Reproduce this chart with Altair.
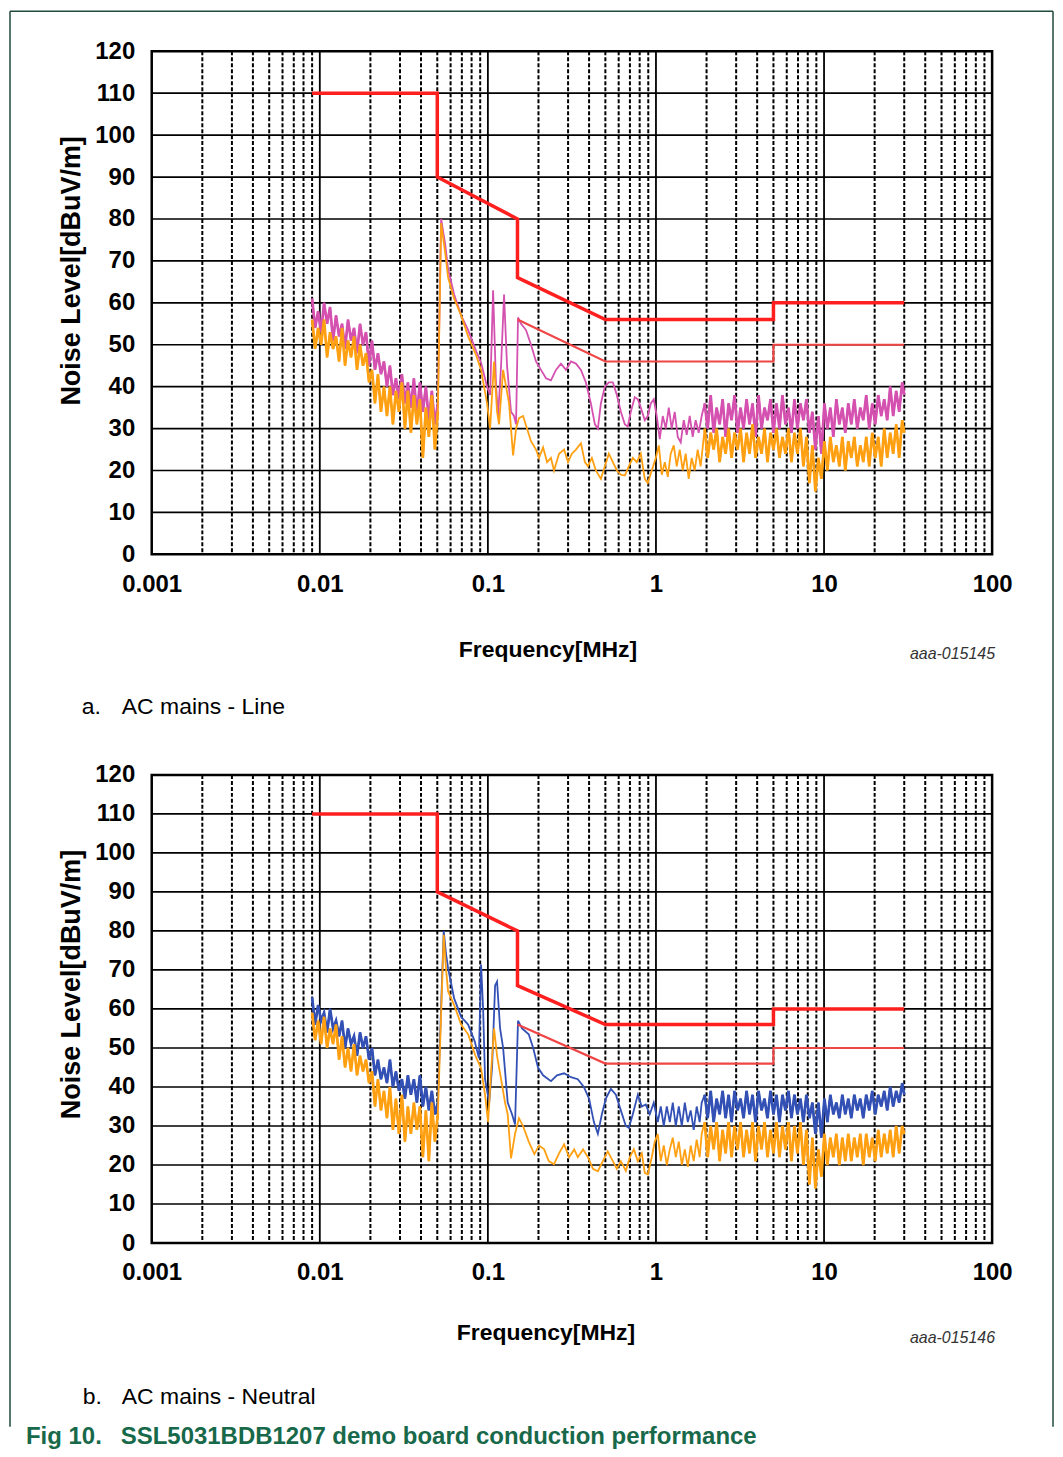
import altair as alt
import pandas as pd

# ---------------- data ----------------
# dense-noise frequency grid below the 0.05 MHz peak (MHz)
F_LOW = [0.00900, 0.00938, 0.00977, 0.01018, 0.01060, 0.01105, 0.01151, 0.01199, 0.01249, 0.01302,
         0.01356, 0.01413, 0.01472, 0.01534, 0.01598, 0.01665, 0.01735, 0.01807, 0.01883, 0.01962,
         0.02044, 0.02129, 0.02218, 0.02311, 0.02408, 0.02509, 0.02614, 0.02723, 0.02837, 0.02956,
         0.03080, 0.03209, 0.03343, 0.03483, 0.03629, 0.03781, 0.03939, 0.04104, 0.04276, 0.04455,
         0.04641, 0.04835, 0.05038]
# dense-noise frequency grid from 2 to 30 MHz
F_HIGH = [1.949, 2.031, 2.116, 2.204, 2.296, 2.392, 2.492, 2.597, 2.705, 2.818,
          2.936, 3.059, 3.187, 3.321, 3.460, 3.604, 3.755, 3.912, 4.076, 4.247,
          4.424, 4.609, 4.802, 5.003, 5.213, 5.431, 5.658, 5.895, 6.142, 6.399,
          6.667, 6.946, 7.236, 7.539, 7.855, 8.184, 8.526, 8.883, 9.255, 9.642,
          10.05, 10.47, 10.90, 11.36, 11.84, 12.33, 12.85, 13.38, 13.94, 14.53,
          15.14, 15.77, 16.43, 17.12, 17.83, 18.58, 19.36, 20.17, 21.01, 21.89,
          22.81, 23.76, 24.76, 25.79, 26.87, 28.00, 29.17, 30.00]

# ---- panel a: AC mains - Line ----
LINE_PK_LOW = [61, 54, 58, 53, 60, 55, 59, 51, 57, 52, 55, 49, 56, 51, 54, 48, 55, 50, 53, 45,
               51, 44, 48, 43, 46, 40, 45, 38, 42, 37, 43, 36, 41, 35, 42, 33, 41, 34, 40, 32,
               39, 31, 36]
LINE_PK_MID_F = [0.0527, 0.0557, 0.0580, 0.0630, 0.0693, 0.0763, 0.0851, 0.0911, 0.0989, 0.1031,
                 0.1074, 0.1119, 0.1150, 0.1198, 0.1248, 0.1300, 0.1373, 0.1431, 0.1471, 0.1511,
                 0.1575, 0.1686, 0.1805, 0.1933, 0.2070, 0.2216, 0.2373, 0.2541, 0.2721, 0.2913,
                 0.3120, 0.3341, 0.3577, 0.3830, 0.4101, 0.4332, 0.4512, 0.4702, 0.4966, 0.5245,
                 0.5540, 0.5852, 0.6181, 0.6529, 0.6801, 0.7087, 0.7484, 0.7798, 0.8125, 0.8581,
                 0.8940, 0.9314, 0.9704, 1.011, 1.053, 1.098, 1.144, 1.192, 1.241, 1.293,
                 1.348, 1.404, 1.463, 1.524, 1.588, 1.654, 1.723, 1.796, 1.871]
LINE_PK_MID = [80, 74, 68, 62, 57, 53.5, 48.5, 45.7, 40, 38,
               63, 40, 33, 45, 62, 45, 34, 33, 31, 56.5,
               55, 53.5, 50, 46, 44, 42, 41.5, 44, 45.5, 44,
               46, 45.5, 44, 41, 36, 31, 30, 36, 40, 41,
               41, 38, 34, 31, 30.5, 34, 37.5, 37, 35, 32,
               33, 36, 37, 33, 27.5, 33, 30, 35, 30, 34,
               28, 26.7, 32, 28.5, 33, 28, 32, 29, 33]
LINE_PK_HIGH = [36, 30, 38, 29, 35, 31, 37, 28, 36, 32, 38, 29, 35, 30, 37, 31, 36, 28, 38, 30,
                35, 32, 37, 29, 36, 30, 38, 31, 35, 29, 37, 30, 36, 32, 37, 29, 34, 25, 33, 24,
                36, 30, 35, 28, 37, 31, 35, 29, 36, 31, 37, 30, 35, 32, 38, 30, 36, 31, 38, 33,
                37, 32, 40, 33, 39, 34, 41, 38]

LINE_AV_LOW = [56, 49, 54, 50, 56, 47, 53, 49, 52, 46, 54, 45, 51, 47, 52, 44, 50, 45, 48, 41,
               44, 36, 43, 34, 40, 33, 40, 31, 39, 34, 41, 30, 39, 29, 38, 31, 37, 23, 35, 28,
               38, 25, 34]
LINE_AV_MID_F = [0.0527, 0.0557, 0.0580, 0.0630, 0.0693, 0.0763, 0.0851, 0.0911, 0.0989, 0.1031,
                 0.1088, 0.1134, 0.1165, 0.1232, 0.1283, 0.1337, 0.1412, 0.1471, 0.1531, 0.1619,
                 0.1709, 0.1805, 0.1933, 0.2015, 0.2130, 0.2251, 0.2373, 0.2474, 0.2651, 0.2840,
                 0.2997, 0.3161, 0.3341, 0.3577, 0.3777, 0.3936, 0.4157, 0.4390, 0.4702, 0.4966,
                 0.5245, 0.5540, 0.5852, 0.6181, 0.6529, 0.6895, 0.7283, 0.7692, 0.8125, 0.8581,
                 0.8940, 0.9441, 0.9976, 1.040, 1.083, 1.129, 1.176, 1.224, 1.276, 1.329,
                 1.385, 1.443, 1.503, 1.566, 1.632, 1.700, 1.771, 1.845]
LINE_AV_MID = [79, 72, 66, 61, 57, 52, 47.5, 44, 36, 30,
               46, 34, 31, 44, 40, 36, 23.6, 30, 32.5, 33,
               30, 27, 25, 23, 25.5, 22, 23, 20, 24, 25,
               22, 24, 25, 26.5, 22, 21, 23, 20, 18, 21,
               24, 22, 20, 19, 18.8, 21, 23, 22, 24, 18,
               17, 20, 23, 26, 19, 22, 18.5, 24, 26, 21,
               25, 20, 24, 18, 23, 20, 25, 21]
LINE_AV_HIGH = [30, 23, 29, 25, 30, 22, 28, 24, 30, 23, 29, 25, 30, 22, 29, 24, 31, 23, 28, 24,
                30, 22, 29, 25, 30, 23, 28, 24, 30, 22, 29, 24, 30, 21, 28, 17, 26, 15, 23, 18,
                27, 20, 28, 22, 26, 21, 28, 20, 27, 23, 28, 21, 26, 22, 28, 21, 29, 23, 28, 21,
                30, 23, 29, 24, 31, 23, 32, 29]

# ---- panel b: AC mains - Neutral ----
NEUT_PK_LOW = [63, 56, 61, 57, 59, 54, 60, 55, 57, 53, 57, 50, 55, 51, 53, 48, 54, 50, 53, 47,
               50, 43, 47, 42, 45, 41, 47, 40, 44, 39, 42, 37, 43, 38, 42, 36, 43, 35, 40, 34,
               39, 33, 36]
NEUT_PK_MID_F = [0.0546, 0.0564, 0.0580, 0.0630, 0.0693, 0.0763, 0.0835, 0.0884, 0.0898, 0.0911,
                 0.0937, 0.0962, 0.1018, 0.1059, 0.1104, 0.1134, 0.1182, 0.1232, 0.1312, 0.1392,
                 0.1451, 0.1511, 0.1596, 0.1750, 0.1860, 0.1986, 0.2130, 0.2373, 0.2576, 0.2840,
                 0.3120, 0.3427, 0.3723, 0.4000, 0.4273, 0.4512, 0.4766, 0.5033, 0.5391, 0.5773,
                 0.6181, 0.6618, 0.6895, 0.7283, 0.7798, 0.8236, 0.8698, 0.9187, 0.9704, 1.025,
                 1.068, 1.113, 1.160, 1.209, 1.259, 1.312, 1.367, 1.425, 1.485, 1.547,
                 1.609, 1.677, 1.747, 1.820, 1.871]
NEUT_PK_MID = [80, 74, 70.4, 62.7, 58, 56, 51.7, 47.4, 60, 71.4,
               60, 42, 36, 45, 66, 67, 55, 50, 36, 33,
               30.4, 57, 55, 53.5, 50, 45, 43, 41.5, 43, 43.5,
               42.5, 42, 40, 37, 31, 28, 33, 37, 39.5, 38,
               34, 30, 29.5, 33, 38, 35, 35.5, 33, 36, 31,
               35, 30, 35, 31, 36, 30, 35, 30, 36, 31,
               34, 29, 35, 31, 36]
NEUT_PK_HIGH = [38, 32, 39, 31, 37, 33, 39, 32, 38, 31, 39, 34, 37, 32, 39, 33, 38, 31, 39, 34,
                37, 32, 39, 33, 38, 31, 38, 34, 39, 32, 38, 33, 37, 31, 38, 32, 36, 28, 36, 27,
                37, 31, 38, 33, 36, 32, 38, 33, 37, 32, 38, 34, 37, 32, 38, 34, 39, 33, 38, 35,
                39, 34, 40, 35, 39, 36, 41, 38]

NEUT_AV_LOW = [59, 52, 57, 51, 58, 50, 55, 51, 56, 47, 53, 45, 50, 44, 51, 43, 48, 44, 47, 41,
               44, 35, 42, 34, 39, 32, 40, 29, 37, 28, 38, 26, 35, 28, 36, 29, 35, 22, 34, 21,
               36, 26, 33]
NEUT_AV_MID_F = [0.0546, 0.0564, 0.0580, 0.0630, 0.0693, 0.0763, 0.0843, 0.0911, 0.0962, 0.1003,
                 0.1045, 0.1088, 0.1134, 0.1198, 0.1265, 0.1312, 0.1373, 0.1451, 0.1531, 0.1619,
                 0.1750, 0.1890, 0.2015, 0.2162, 0.2303, 0.2474, 0.2651, 0.2840, 0.3043, 0.3262,
                 0.3427, 0.3682, 0.3936, 0.4219, 0.4512, 0.4832, 0.5165, 0.5540, 0.5852, 0.6181,
                 0.6618, 0.6990, 0.7389, 0.7798, 0.8236, 0.8581, 0.8940, 0.9441, 0.9839, 1.025,
                 1.068, 1.113, 1.160, 1.209, 1.259, 1.312, 1.367, 1.425, 1.485, 1.547,
                 1.609, 1.677, 1.747, 1.820, 1.871]
NEUT_AV_MID = [79, 70, 64.5, 61, 56, 53.5, 48, 44.8, 38, 31,
               44, 55, 48, 42, 36, 33, 21.7, 28, 32, 30,
               26, 22.8, 25, 24, 21, 20.2, 23, 25.3, 22, 24,
               22, 24, 22, 19, 18.4, 21, 23.5, 21, 19, 21,
               18.5, 22, 24, 21, 23, 18, 17.6, 22, 26, 27.9,
               21, 25, 20, 24, 27, 22, 26, 20, 24, 19.5,
               25, 21, 26.5, 22, 28]
NEUT_AV_HIGH = [31, 22, 30, 24, 31, 21, 29, 23, 31, 22, 30, 24, 31, 22, 29, 23, 31, 21, 30, 24,
                31, 22, 29, 23, 31, 22, 30, 24, 31, 21, 30, 23, 31, 20, 29, 15, 27, 14, 24, 17,
                28, 20, 27, 22, 28, 20, 27, 21, 28, 21, 27, 22, 28, 20, 28, 22, 27, 21, 29, 22,
                28, 23, 29, 22, 30, 23, 30, 28]

# limit lines (quasi-peak and average)
QP_F = [0.009, 0.05, 0.05, 0.15, 0.15, 0.5, 5, 5, 30]
QP_DB = [110, 110, 90, 80, 66, 56, 56, 60, 60]
AV_F = [0.15, 0.5, 5, 5, 30]
AV_DB = [56, 46, 46, 50, 50]

# axes / grid
X_TICKS = [0.001, 0.01, 0.1, 1, 10, 100]
Y_TICKS = [0, 10, 20, 30, 40, 50, 60, 70, 80, 90, 100, 110, 120]
H_GRID = [10, 20, 30, 40, 50, 60, 70, 80, 90, 100, 110]
MAJOR_F = [0.01, 0.1, 1, 10]
MINOR_F = [0.002, 0.003, 0.004, 0.005, 0.006, 0.007, 0.008, 0.009,
           0.02, 0.03, 0.04, 0.05, 0.06, 0.07, 0.08, 0.09,
           0.2, 0.3, 0.4, 0.5, 0.6, 0.7, 0.8, 0.9,
           2, 3, 4, 5, 6, 7, 8, 9,
           20, 30, 40, 50, 60, 70, 80, 90]

# ---------------- styling ----------------
SANS = "'Liberation Sans', Arial, sans-serif"
W = 842
PINK = "#d451b0"
ORANGE = "#ffa012"
BLUE = "#3350b5"
QP_RED = "#ff1f1f"
AV_RED = "#f04545"
GREEN = "#17694a"
FRAME = "#1f4a3c"


def series_df(f, db):
    n = min(len(f), len(db))
    return pd.DataFrame({"f": list(f[:n]), "db": list(db[:n]), "i": list(range(n))})


def text_layer(txt, x, y, size, weight="normal", font=SANS, color="black",
               align="left", angle=0, style="normal"):
    return alt.Chart(pd.DataFrame({"t": [txt]})).mark_text(
        align=align, baseline="middle", font=font, fontSize=size, fontWeight=weight,
        color=color, angle=angle, fontStyle=style
    ).encode(x=alt.value(x), y=alt.value(y), text="t:N")


def panel(h, traces, texts):
    xs = alt.Scale(type="log", domain=[0.001, 100], nice=False)
    ys = alt.Scale(domain=[0, 120], nice=False)
    xa = alt.Axis(values=X_TICKS, format="~g", title=None, grid=False, ticks=False,
                  domain=False, labelFont=SANS, labelFontSize=24, labelFontWeight="bold",
                  labelColor="black", labelPadding=18, labelOverlap=False, labelFlush=False)
    ya = alt.Axis(values=Y_TICKS, title=None, grid=False, ticks=False, domain=False,
                  labelFont=SANS, labelFontSize=24, labelFontWeight="bold",
                  labelColor="black", labelPadding=17, labelOverlap=False, labelFlush=False)
    X = alt.X("f:Q", scale=xs, axis=xa)
    Y = alt.Y("db:Q", scale=ys, axis=ya)
    layers = [
        alt.Chart(pd.DataFrame({"db": H_GRID})).mark_rule(color="black", strokeWidth=1.7).encode(y=Y),
        alt.Chart(pd.DataFrame({"f": MINOR_F})).mark_rule(
            color="black", strokeWidth=2, strokeDash=[4, 2]).encode(x=X),
        alt.Chart(pd.DataFrame({"f": MAJOR_F})).mark_rule(color="black", strokeWidth=1.8).encode(x=X),
    ]
    for full, dense_parts, color in traces:
        layers.append(alt.Chart(full).mark_line(color=color, strokeWidth=1.8).encode(
            x=X, y=Y, order="i:Q"))
        for part in dense_parts:
            layers.append(alt.Chart(part).mark_line(color=color, strokeWidth=2.7).encode(
                x=X, y=Y, order="i:Q"))
    layers.append(alt.Chart(series_df(AV_F, AV_DB)).mark_line(
        color=AV_RED, strokeWidth=2.2).encode(x=X, y=Y, order="i:Q"))
    layers.append(alt.Chart(series_df(QP_F, QP_DB)).mark_line(
        color=QP_RED, strokeWidth=3.5).encode(x=X, y=Y, order="i:Q"))
    layers.extend(texts)
    return alt.layer(*layers).properties(width=W, height=h)


def trace(low, mid_f, mid, high, color):
    full = series_df(F_LOW + mid_f + F_HIGH, low + mid + high)
    dense = [series_df(F_LOW, low), series_df(F_HIGH, high)]
    return (full, dense, color)


one = pd.DataFrame({"k": [0]})
border = [
    alt.Chart(one).mark_rule(color=FRAME, strokeWidth=1.5).encode(
        x=alt.value(-142), y=alt.value(-40), y2=alt.value(1378)),
    alt.Chart(one).mark_rule(color=FRAME, strokeWidth=1.5).encode(
        x=alt.value(-142), x2=alt.value(903), y=alt.value(-40)),
    alt.Chart(one).mark_rule(color=FRAME, strokeWidth=1.5).encode(
        x=alt.value(903), y=alt.value(-40), y2=alt.value(1378)),
]

texts_a = border + [
    text_layer("Noise Level[dBuV/m]", -80, 220, 27, weight="bold", angle=270, align="center"),
    text_layer("Frequency[MHz]", 397, 600, 23, weight="bold", align="center"),
    text_layer("aaa-015145", 845, 604, 16, color="#333333", align="right", style="italic"),
    text_layer("a.", -70, 657, 23),
    text_layer("AC mains - Line", -30, 657, 23),
]
texts_b = [
    text_layer("Noise Level[dBuV/m]", -80, 210, 27, weight="bold", angle=270, align="center"),
    text_layer("Frequency[MHz]", 395, 559, 23, weight="bold", align="center"),
    text_layer("aaa-015146", 845, 564, 16, color="#333333", align="right", style="italic"),
    text_layer("b.", -69, 623, 23),
    text_layer("AC mains - Neutral", -30, 623, 23),
    text_layer("Fig 10.", -126, 663, 24, weight="bold", color=GREEN),
    text_layer("SSL5031BDB1207 demo board conduction performance", -31, 663, 24,
               weight="bold", color=GREEN),
]

panel_a = panel(504, [
    trace(LINE_PK_LOW, LINE_PK_MID_F, LINE_PK_MID, LINE_PK_HIGH, PINK),
    trace(LINE_AV_LOW, LINE_AV_MID_F, LINE_AV_MID, LINE_AV_HIGH, ORANGE),
], texts_a)
panel_b = panel(469, [
    trace(NEUT_PK_LOW, NEUT_PK_MID_F, NEUT_PK_MID, NEUT_PK_HIGH, BLUE),
    trace(NEUT_AV_LOW, NEUT_AV_MID_F, NEUT_AV_MID, NEUT_AV_HIGH, ORANGE),
], texts_b)

chart = alt.vconcat(panel_a, panel_b, spacing=221, bounds="flush").properties(
    padding=0
).configure(background="white").configure_view(stroke="black", strokeWidth=2.5)

chart.save("out.html", embed_options={"renderer": "svg", "actions": False})
